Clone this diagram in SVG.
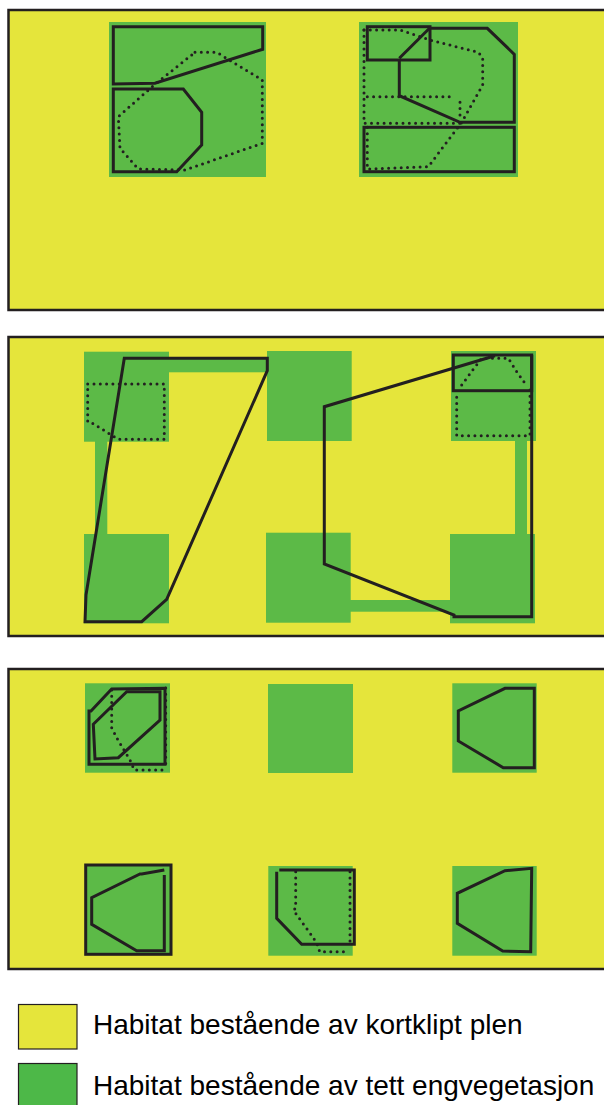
<svg xmlns="http://www.w3.org/2000/svg" width="604" height="1105" viewBox="0 0 604 1105">
<style>
.panel{fill:#E5E53B;stroke:#231F20;stroke-width:2.5}
.g{fill:#5CBA47}
.s{fill:none;stroke:#231F20;stroke-width:3;stroke-linejoin:miter}
.d{fill:none;stroke:#231F20;stroke-width:3;stroke-linecap:round;stroke-dasharray:0 6.3}
.t{font-family:"Liberation Sans",Arial,sans-serif;font-size:28px;fill:#000}
</style>
<rect width="604" height="1105" fill="#fff"/>
<g id="panel1">
<rect class="panel" x="8.5" y="10" width="610" height="300"/>
<rect class="g" x="109" y="22" width="157" height="155"/>
<rect class="g" x="359" y="22" width="159" height="155"/>
<path class="s" d="M113.3,26.7 L262.7,26.7 L262.7,49.3 L155,83.3 L113.3,84 Z"/>
<path class="s" d="M113.3,89 L183.3,89 L201.7,112.3 L201.7,145 L176.7,171.7 L113.3,171.7 Z"/>
<path class="d" d="M195,52.3 L216.7,52.3 L262.3,80 L262.3,143.3 L185,170 L138.3,169 L120,148.3 L118.3,116.7 L153.3,85.7 Z"/>
<rect class="s" x="367.3" y="26.7" width="62.7" height="33.3"/>
<path class="s" d="M430,27.7 L399.3,58.3"/>
<path class="s" d="M399.3,60 L399.3,95.7 L460,122.3 L514.3,122.3 L514.3,54.3 L487.3,28.3 L430,28.3"/>
<rect class="s" x="364" y="127.3" width="150.3" height="44.4"/>
<path class="d" d="M364,30 L400,30 L430,40 L478.3,52.3 L482.7,57.7 L482.7,85 L461.7,122.3 L428.3,166.7 L367.3,169 L367.3,126.7"/>
<path class="d" d="M364,30 L364,123.3 L460,123.3"/>
<path class="d" d="M367.3,96.7 L453.3,96.7 M460,102.3 L460,116.7"/>
</g>
<g id="panel2">
<rect class="panel" x="8.5" y="337" width="610" height="299"/>
<rect class="g" x="84" y="351.7" width="85" height="90"/>
<rect class="g" x="95" y="441" width="12.3" height="93.5"/>
<rect class="g" x="84" y="534" width="85" height="89.3"/>
<rect class="g" x="169" y="358.3" width="98" height="14"/>
<rect class="g" x="267" y="351" width="84.7" height="90"/>
<rect class="g" x="266" y="532.7" width="84.7" height="90"/>
<rect class="g" x="350" y="600" width="100.5" height="11.7"/>
<rect class="g" x="451" y="351" width="85" height="90"/>
<rect class="g" x="515" y="440.5" width="12" height="94"/>
<rect class="g" x="450" y="534" width="85" height="89.3"/>
<path class="d" d="M87.7,384 L164.3,384 L164.3,439.3 L118.3,439.3 L90,421.7 L87.7,421.7 Z"/>
<path class="s" d="M124.3,358.3 L267.3,358.3 L267.3,370.7 L166.7,599.3 L141.7,621.7 L85,621.7 L86,595 Z"/>
<path class="d" d="M461.7,385 L473.3,369.3 L481.7,358.3 L508.3,358.3 L516.7,371.7 L525,383.3"/>
<path class="d" d="M530,390 L530,435.7 L456.7,435.7 L456.7,396.7"/>
<rect class="s" x="453.3" y="355" width="78.4" height="35.7"/>
<path class="s" d="M495,355.7 L324.3,406.7 L324.3,564 L454,615 L454,616.7 L531.7,616.7 L531.7,355"/>
</g>
<g id="panel3">
<rect class="panel" x="8.5" y="669" width="610" height="300"/>
<rect class="g" x="85" y="683.3" width="85" height="89.4"/>
<rect class="g" x="268" y="684" width="85" height="89"/>
<rect class="g" x="452.3" y="683.3" width="84.4" height="89.4"/>
<rect class="g" x="87" y="866" width="83" height="87.5"/>
<rect class="g" x="268.3" y="866" width="84.4" height="89.7"/>
<rect class="g" x="452.3" y="866" width="84.4" height="89.7"/>
<path class="d" d="M111.7,690 L111.7,728 L118,740 L130,760 L134.3,770 L163.3,770 M165.7,688 L165.7,768"/>
<path class="s" d="M89,764.3 L89,711 L91,711 L111.7,689 L165,688.3 L165,764.3 Z"/>
<path class="s" d="M93.3,724.3 L126.7,691.7 L160,691.7 L160,720 L118.3,757.7 L95,759 Z"/>
<path class="s" d="M505,688.3 L534.3,688.3 L534.3,767.7 L503.3,767.7 L458.3,741 L458.3,711 Z"/>
<rect class="s" x="85.7" y="865" width="85.3" height="89.3"/>
<path class="s" d="M164.3,875 L164.3,950.7 L136.7,950.7 L91.7,924.3 L91.7,897.7 L140,874 L141.7,874 L164.3,870"/>
<path class="d" d="M295.7,871.7 L295.7,908.3 L293.3,910 L301.7,921.7 L313.3,937.7 L319.3,948.3 L319.3,951.7 L346.7,951.7 M350,871.7 L350,945"/>
<path class="s" d="M279.3,870 L354.3,870 L354.3,944.3 L301.7,944.3 L276.7,918.3 L276.7,871.7"/>
<path class="s" d="M505,870.7 L531.7,868.3 L530.7,951.7 L502.7,951 L457.3,923.3 L457.3,893.3 Z"/>
</g>
<g id="legend">
<rect x="18.5" y="1004.5" width="58.5" height="44.5" fill="#E5E53B" stroke="#231F20" stroke-width="1.2"/>
<text class="t" x="93" y="1034">Habitat bestående av kortklipt plen</text>
<rect x="18.5" y="1063.5" width="58.5" height="45" fill="#4DB848" stroke="#231F20" stroke-width="1.2"/>
<text class="t" x="93" y="1095">Habitat bestående av tett engvegetasjon</text>
</g>
</svg>
